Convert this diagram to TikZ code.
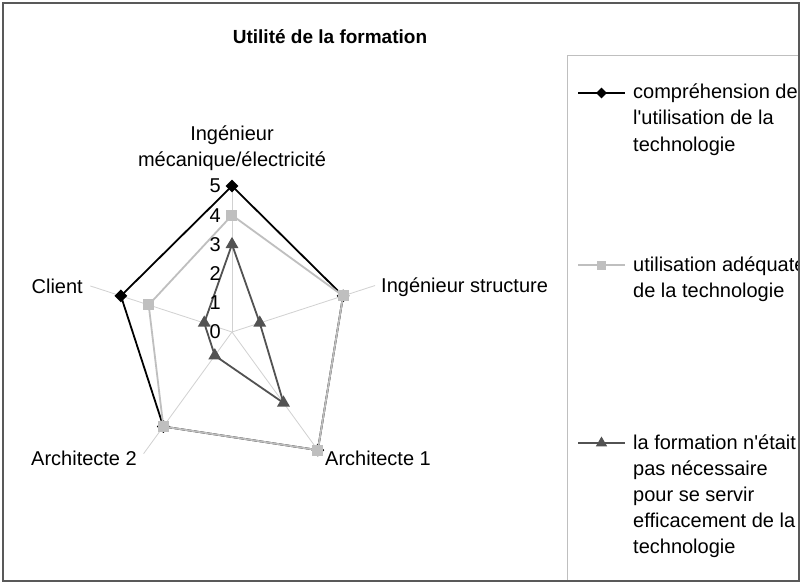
\documentclass[tikz,border=0pt]{standalone}
\usepackage{fontspec}
\setmainfont{Liberation Sans}
\usetikzlibrary{shapes.geometric}

\begin{document}
\begin{tikzpicture}[x=1pt,y=1pt]
\tikzstyle{spoke}=[draw=black!18,line width=0.8pt]
\tikzstyle{lbl}=[font=\fontsize{20}{26}\selectfont,inner sep=0pt]
\tikzstyle{legtext}=[font=\fontsize{20}{26}\selectfont,inner sep=0pt,align=left,anchor=base west]
\tikzstyle{compr}=[fill=black,diamond,inner sep=0pt,minimum size=13pt]
\tikzstyle{utile}=[fill=black!25,rectangle,inner sep=0pt,minimum size=11pt]
\tikzstyle{inutile}=[fill=black!68,regular polygon,regular polygon sides=3,inner sep=0pt,minimum size=15pt]
\useasboundingbox (-232,-252) rectangle (571,332);
\fill[white] (-232,-252) rectangle (571,332);
\node [font=\fontsize{19}{22}\selectfont\bfseries] (title) at (98,295) {Utilité de la formation};
% radar
\begin{scope}[x=29.2pt,y=29.2pt]
\coordinate (o) at (0,0);
\foreach \a/\r/\n in {90/5/mech,18/5.15/struct,-54/5.15/archA,-126/5.15/archB,162/5.1/client}
    \coordinate (\n) at (\a:\r);
\foreach \n in {mech,struct,archA,archB,client}
    \draw[spoke] (o) -- (\n);
% comprehension
\foreach \a/\v/\n in {90/5/1,18/4/2,-54/5/3,-126/4/4,162/4/5}
    \coordinate (c\n) at (\a:\v);
\draw[black,line width=1.8pt,line join=round] (c1) -- (c2) -- (c3) -- (c4) -- (c5) -- cycle;
\foreach \n in {1,...,5} \node [compr] (cm\n) at (c\n) {};
% utilisation
\foreach \a/\v/\n in {90/4/1,18/4/2,-54/5/3,-126/4/4,162/3/5}
    \coordinate (u\n) at (\a:\v);
\draw[black!25,line width=1.8pt,line join=round] (u1) -- (u2) -- (u3) -- (u4) -- (u5) -- cycle;
\foreach \n in {1,...,5} \node [utile] (um\n) at (u\n) {};
% pas necessaire
\foreach \a/\v/\n in {90/3/1,18/1/2,-54/3/3,-126/1/4,162/1/5}
    \coordinate (p\n) at (\a:\v);
\draw[black!68,line width=1.8pt,line join=round] (p1) -- (p2) -- (p3) -- (p4) -- (p5) -- cycle;
\foreach \n in {1,...,5} \node [inutile] (pm\n) at (p\n) {};
\end{scope}
\foreach \v in {0,...,5}
    \node [lbl,anchor=east] (n\v) at (-11,\v*29.2) {\v};
\node [lbl,align=center] (mechlbl) at (0,184) {Ingénieur\\mécanique/électricité};
\node [lbl,anchor=west] (structlbl) at (149,45) {Ingénieur structure};
\node [lbl,anchor=west] (archAlbl) at (93,-126) {Architecte 1};
\node [lbl,anchor=east] (archBlbl) at (-95,-126) {Architecte 2};
\node [lbl,anchor=east] (clientlbl) at (-149,46) {Client};
% legend
\begin{scope}
\clip (-229,-249) rectangle (567,329);
\draw[black!25,line width=0.8pt] (335,277) rectangle (600,-270);
\coordinate (l1a) at (346,239); \coordinate (l1b) at (393,239);
\coordinate (l2a) at (346,67); \coordinate (l2b) at (393,67);
\coordinate (l3a) at (346,-111); \coordinate (l3b) at (393,-111);
\draw[black,line width=1.8pt] (l1a) -- (l1b);
\node [compr,minimum size=11pt] (lm1) at (369.5,239) {};
\draw[black!25,line width=1.8pt] (l2a) -- (l2b);
\node [utile,minimum size=9pt] (lm2) at (369.5,67) {};
\draw[black!68,line width=1.8pt] (l3a) -- (l3b);
\node [inutile,minimum size=13pt] (lm3) at (369.5,-111) {};
\node [legtext] (lt1) at (401,181) {compréhension de\\l\textquotesingle utilisation de la\\technologie};
\node [legtext] (lt2) at (401,35) {utilisation adéquate\\de la technologie};
\node [legtext] (lt3) at (401,-221) {la formation n\textquotesingle était\\pas nécessaire\\pour se servir\\efficacement de la\\technologie};
\end{scope}
\draw[black!65,line width=1.6pt] (-229,-249) rectangle (567,329);
\end{tikzpicture}
\end{document}
